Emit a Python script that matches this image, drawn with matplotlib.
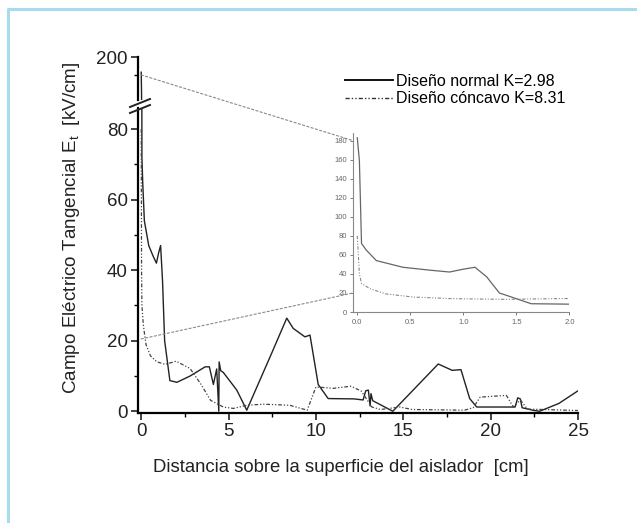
import matplotlib
matplotlib.use('Agg')
import matplotlib.pyplot as plt
from matplotlib.lines import Line2D
from matplotlib.patches import ConnectionPatch

plt.rcParams['font.family'] = ['Liberation Sans', 'DejaVu Sans']

# Diseño normal (solid)
x_normal = [0, 0.02, 0.04, 0.085, 0.18, 0.43, 0.68, 0.87, 1.0, 1.11, 1.22, 1.34,
            1.5, 1.64, 2.04, 2.8, 3.66, 3.9, 4.13, 4.32, 4.44, 4.46, 4.55, 4.7,
            5.47, 6.04, 7.47, 8.33, 8.7, 9.37, 9.66, 10.13, 10.7, 12.2, 12.7,
            12.85, 13.0, 13.1, 13.15, 13.25, 14.4, 17.0, 17.8, 18.3, 18.8, 19.2,
            21.4, 21.55, 21.7, 21.8, 22.4, 22.8, 23.9, 25.0]
e_normal = [183, 159, 72, 65, 54, 47, 44, 42, 45, 47, 37, 20,
            14, 8.7, 8.2, 10, 12.6, 12.6, 7.6, 12, 0, 14, 11.5, 11,
            6, 0.3, 16.5, 26.4, 23.5, 21.1, 21.6, 7.6, 3.6, 3.5, 3.2,
            5.8, 6, 1.5, 5, 3, 0, 13.4, 11.6, 11.8, 3.6, 1.2,
            1.2, 3.8, 3.5, 1.0, 0.3, 0, 2.2, 5.8]

# Diseño cóncavo (dash-dot-dot)
x_concavo = [0, 0.02, 0.04, 0.12, 0.27, 0.53, 0.9, 1.38, 2.0, 2.8, 3.4, 3.97,
             4.7, 5.28, 6.04, 7.0, 8.5, 9.5, 10.0, 11.0, 12.0, 12.6, 13.2, 13.7,
             14.8, 15.5, 18.5, 19.0, 19.4, 20.9, 21.3, 21.7, 22.1, 23.0, 25.0]
e_concavo = [80, 40, 30, 24.5, 19, 15.7, 14, 13.3, 14.2, 12.1, 7.8, 3.1,
             1.2, 0.8, 1.7, 2, 1.7, 0.3, 6.9, 6.5, 7.1, 5.7, 1.2, 0.5,
             1.2, 0.5, 0.3, 1.0, 4, 4.5, 1.2, 3.2, 0.6, 0.5, 0.2]

labels = ['Diseño normal K=2.98', 'Diseño cóncavo K=8.31']
main_xticks = [0, 5, 10, 15, 20, 25]
main_yticks = [0, 20, 40, 60, 80]
inset_xticks = [0.0, 0.5, 1.0, 1.5, 2.0]
inset_yticks = list(range(0, 181, 20))

dashdot = (0, (3, 1.5, 1, 1.5, 1, 1.5))

fig = plt.figure(figsize=(6.37, 5.23), dpi=100)

# light blue frame (top and left edges)
fig.add_artist(Line2D([8 / 637, 8 / 637, 1], [0, 1 - 9 / 523, 1 - 9 / 523],
                      transform=fig.transFigure, color='#a6dcef', lw=2.2))

ax = fig.add_axes([0.2162, 0.2103, 0.6912, 0.5832])
ax_top = fig.add_axes([0.2162, 0.8088, 0.6912, 0.0822])
ins = fig.add_axes([0.5542, 0.4025, 0.3396, 0.3432])

for a in (ax, ax_top):
    a.plot(x_normal, e_normal, color='#222222', lw=1.0)
    a.plot(x_concavo, e_concavo, color='#444444', lw=0.9, linestyle=dashdot)
    a.set_xlim(-0.2, 25)
    a.spines['top'].set_visible(False)
    a.spines['right'].set_visible(False)
    a.spines['left'].set_linewidth(1.6)
    a.patch.set_alpha(0)

ax.set_ylim(-0.5, 86)
ax.spines['bottom'].set_linewidth(1.6)
ax.set_xticks(main_xticks)
ax.set_xticks([2.5, 7.5, 12.5, 17.5, 22.5], minor=True)
ax.set_yticks(main_yticks)
ax.set_yticks([10, 30, 50, 70], minor=True)
ax.tick_params(which='major', length=5, width=1.2, labelsize=13.5, colors='#222222', pad=2)
ax.tick_params(which='minor', length=3, width=1.0)

ax_top.set_ylim(152, 200)
ax_top.spines['bottom'].set_visible(False)
ax_top.set_xticks([])
ax_top.set_yticks([200])
ax_top.set_yticks([180], minor=True)
ax_top.tick_params(which='major', length=5, width=1.2, labelsize=13.5, colors='#222222', pad=2)
ax_top.tick_params(which='minor', length=3, width=1.0)

# axis break marks
for dy in (0, 6):
    fig.add_artist(Line2D([130 / 637, 150 / 637],
                          [1 - (113 - dy) / 523, 1 - (105 - dy) / 523],
                          transform=fig.transFigure, color='#222222', lw=1.4))

# inset
ins.plot(x_normal, e_normal, color='#666666', lw=0.9)
ins.plot(x_concavo, e_concavo, color='#888888', lw=0.8, linestyle=dashdot)
ins.set_xlim(-0.04, 2.0)
ins.set_ylim(-0.5, 188)
ins.set_xticks(inset_xticks)
ins.set_xticklabels(['0.0', '0.5', '1.0', '1.5', '2.0'])
ins.set_yticks(inset_yticks)
ins.spines['top'].set_visible(False)
ins.spines['right'].set_visible(False)
for s in ('left', 'bottom'):
    ins.spines[s].set_color('#888888')
    ins.spines[s].set_linewidth(0.8)
    ins.spines[s].set_linestyle((0, (1, 1)))
ins.tick_params(length=2.5, width=0.6, labelsize=5.5, colors='#666666', pad=2)
ins.patch.set_alpha(0)

# zoom connectors
for ya, a_src, yb in ((180, ax_top, 180), (20.5, ax, 20)):
    con = ConnectionPatch(xyA=(0, ya), coordsA=a_src.transData,
                          xyB=(-0.04, yb), coordsB=ins.transData,
                          color='#888888', lw=0.8, linestyle=(0, (2, 2)))
    fig.add_artist(con)

handles = [Line2D([], [], color='#111111', lw=1.4),
           Line2D([], [], color='#333333', lw=1.0, linestyle=dashdot)]
fig.legend(handles, labels, loc='upper left', bbox_to_anchor=(345 / 637, 1 - 74 / 523),
           frameon=False, fontsize=11.5, handlelength=3.0, handletextpad=0.2,
           labelspacing=0.15, borderaxespad=0, borderpad=0)

fig.text(72 / 637, 1 - 228 / 523,
         'Campo Eléctrico Tangencial E$_{\\mathregular{t}}$  [kV/cm]',
         rotation=90, ha='center', va='center', fontsize=13.6, color='#222222')
fig.text(341 / 637, 1 - 467 / 523, 'Distancia sobre la superficie del aislador  [cm]',
         ha='center', va='center', fontsize=13.3, color='#222222')

fig.savefig('out.png', dpi=100)
